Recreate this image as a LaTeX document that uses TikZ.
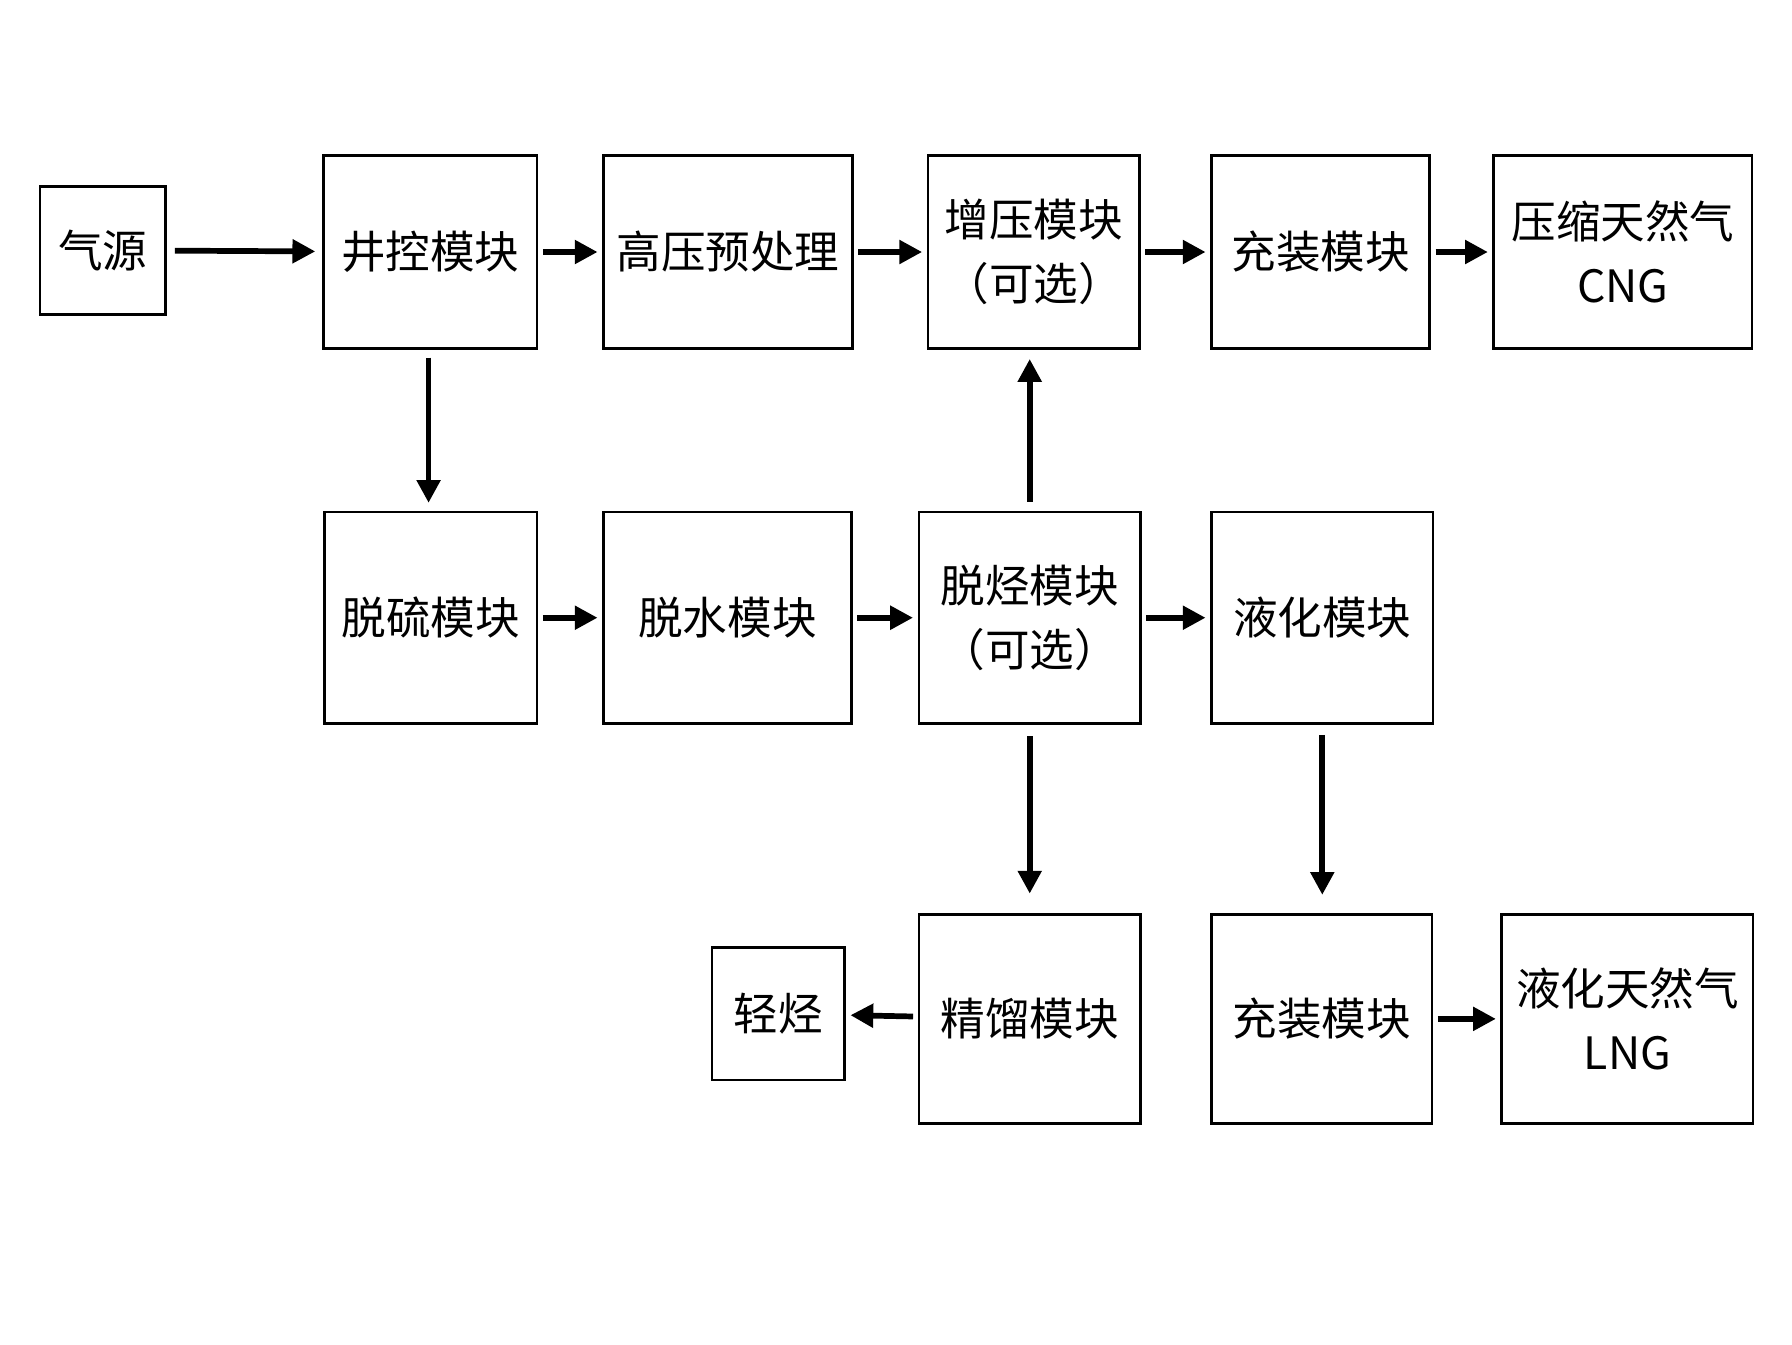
\documentclass[tikz,border=0pt]{standalone}
\usepackage{fontspec}
\setmainfont{Liberation Serif}
\newfontfamily\cjk{Noto Sans CJK SC}
\usetikzlibrary{arrows.meta}
\begin{document}
\begin{tikzpicture}[x=1pt,y=-1pt,
 box/.style={draw,line width=2.2pt,inner sep=0pt,align=center,font=\cjk\fontsize{39}{56}\selectfont},
 arr/.style={line width=5pt,-{Triangle[length=20pt,width=20pt]}}]
\useasboundingbox (0,0) rectangle (1568,1176);
\newcommand{\bx}[6]{\node[box,minimum width={#4-#2},minimum height={#5-#3}] (#1) at ({(#2+#4)/2},{(#3+#5)/2}) {#6};}
\bx{qy}{35}{163}{145}{275}{气源}
\bx{jk}{283}{136}{470}{305}{井控模块}
\bx{gy}{528}{136}{746}{305}{高压预处理}
\bx{zy}{812}{136}{997}{305}{增压模块\\（可选）}
\bx{cz}{1060}{136}{1251}{305}{充装模块}
\bx{cng}{1307}{136}{1533}{305}{压缩天然气\\CNG}
\bx{tl}{284}{448}{470}{633}{脱硫模块}
\bx{ts}{528}{448}{745}{633}{脱水模块}
\bx{tt}{804}{448}{998}{633}{脱烃模块\\（可选）}
\bx{yh}{1060}{448}{1254}{633}{液化模块}
\bx{qt}{623}{829}{739}{945}{轻烃}
\bx{jl}{804}{800}{998}{983}{精馏模块}
\bx{cz2}{1060}{800}{1253}{983}{充装模块}
\bx{lng}{1314}{800}{1534}{983}{液化天然气\\LNG}
\draw[arr,shorten <=7pt,shorten >=6pt] (qy) -- (jk);
\foreach \a/\b in {jk/gy,gy/zy,zy/cz,cz/cng,tl/ts,ts/tt,tt/yh,cz2/lng,jl/qt}
  \draw[arr,shorten <=4pt,shorten >=4pt] (\a) -- (\b);
\draw[arr,shorten <=8pt,shorten >=8pt] (375,305) -- (375,448);
\draw[arr,shorten <=8pt,shorten >=8pt] (tt.north) -- (tt.north |- zy.south);
\draw[arr,shorten <=10pt,shorten >=17pt] (tt.south) -- (tt.south |- jl.north);
\draw[arr,shorten <=10pt,shorten >=17pt] (1157,633) -- (1157,800);
\end{tikzpicture}
\end{document}
